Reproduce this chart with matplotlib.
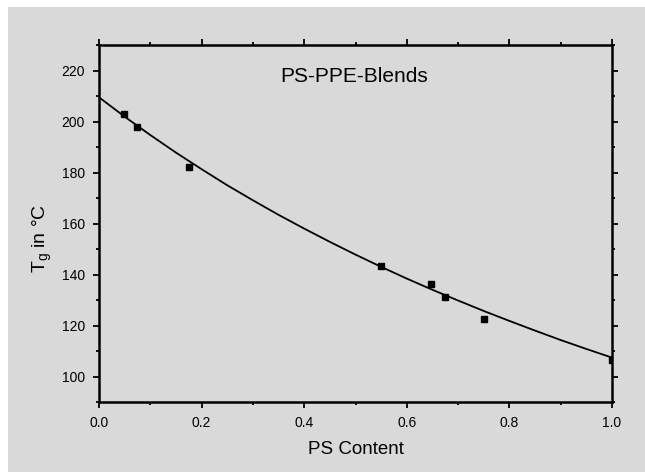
import matplotlib
matplotlib.use("Agg")
import matplotlib.pyplot as plt
import matplotlib.patches as patches
from matplotlib.ticker import MultipleLocator

plt.rcParams['font.family'] = ['Liberation Sans', 'DejaVu Sans']
plt.rcParams['mathtext.fontset'] = 'custom'
plt.rcParams['mathtext.rm'] = 'Liberation Sans'
plt.rcParams['mathtext.it'] = 'Liberation Sans:italic'

# measured blends
ps_content = [0.049, 0.074, 0.175, 0.55, 0.648, 0.674, 0.75, 1.0]
tg_measured = [202.8, 197.7, 182.2, 143.2, 136.2, 131.2, 122.4, 106.5]

# fit curve
curve_x = [0.0, 0.05, 0.1, 0.15, 0.2, 0.25, 0.3, 0.35, 0.4, 0.45, 0.5,
           0.55, 0.6, 0.65, 0.7, 0.75, 0.8, 0.85, 0.9, 0.95, 1.0]
curve_tg = [209.5, 201.9, 194.7, 187.8, 181.3, 175.0, 169.1, 163.4, 158.0, 152.8, 147.8,
            143.0, 138.4, 134.0, 129.8, 125.7, 121.8, 118.0, 114.3, 110.8, 107.4]

bg = '#d9d9d9'

fig = plt.figure(figsize=(6.45, 4.72), dpi=100, facecolor='white')
# grey scan area with a thin white edge top and left
fig.patches.append(patches.Rectangle((8 / 645, 0), 1, 1 - 7 / 472, transform=fig.transFigure,
                                     facecolor=bg, edgecolor='none', zorder=-10))

ax = fig.add_axes([99 / 645, 1 - 402 / 472, 513 / 645, 357 / 472])
ax.set_facecolor(bg)
ax.set_zorder(5)

ax.plot(curve_x, curve_tg, color='black', lw=1.3, zorder=2)
ax.plot(ps_content, tg_measured, linestyle='none', marker='s', ms=5, color='black', zorder=3)

ax.set_xlim(0, 1.0)
ax.set_ylim(90, 230)
ax.xaxis.set_major_locator(MultipleLocator(0.2))
ax.xaxis.set_minor_locator(MultipleLocator(0.1))
ax.yaxis.set_major_locator(MultipleLocator(20))
ax.yaxis.set_minor_locator(MultipleLocator(10))
ax.set_yticks([100, 120, 140, 160, 180, 200, 220])
ax.xaxis.set_major_formatter(matplotlib.ticker.FormatStrFormatter('%.1f'))

for s in ax.spines.values():
    s.set_linewidth(1.8)
    s.set_capstyle('projecting')

ax.tick_params(which='both', direction='out', top=True, right=True, width=1.3)
ax.tick_params(which='major', length=4, pad=6, labelsize=10)
ax.tick_params(which='minor', length=2.5)

ax.text(0.498, 0.913, 'PS-PPE-Blends', transform=ax.transAxes, ha='center', va='center',
        fontsize=15)

ax.set_xlabel('PS Content', fontsize=13.5, va='center')
ax.xaxis.set_label_coords(0.5, -0.132)
ax.set_ylabel(r'T$_\mathrm{g}$ in °C', fontsize=14, va='center')
ax.yaxis.set_label_coords(-0.11, 0.457)

fig.savefig('out.png', dpi=100, facecolor='white')
